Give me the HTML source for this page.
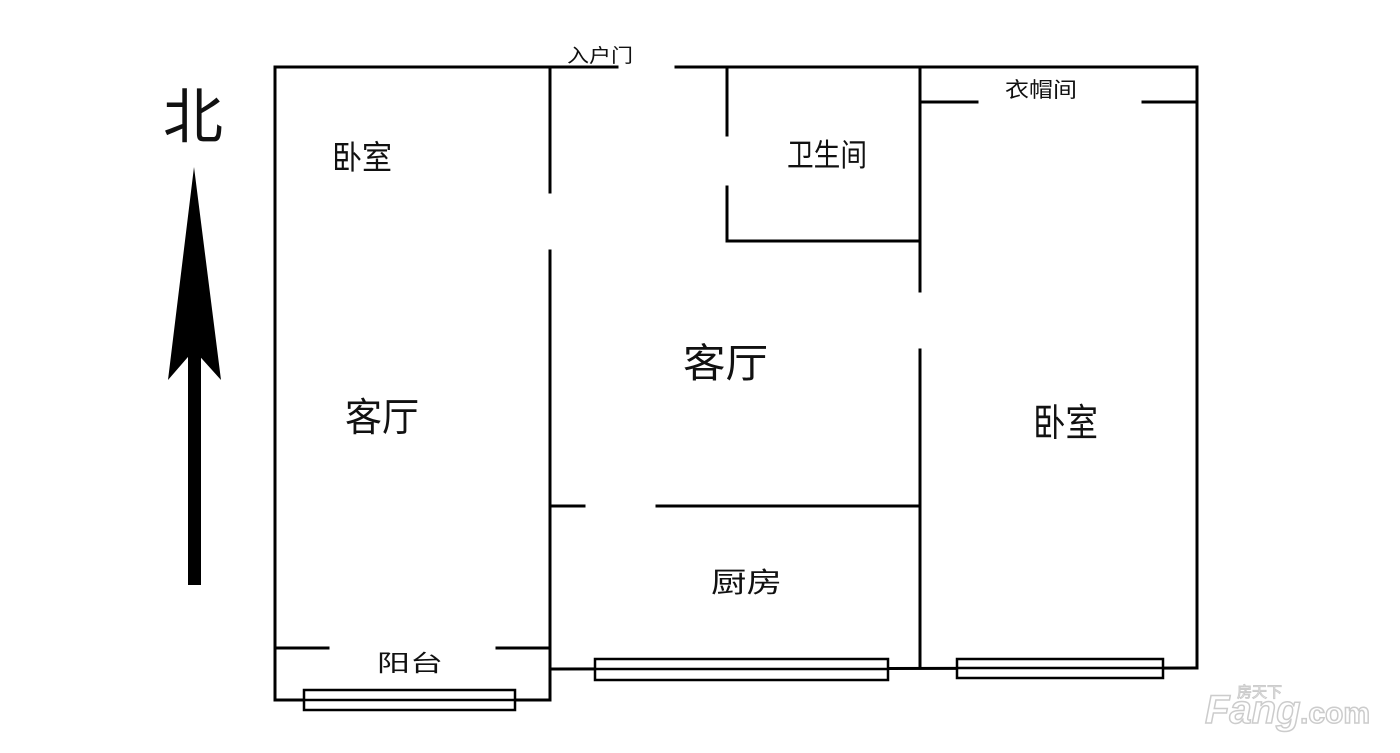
<!DOCTYPE html>
<html><head><meta charset="utf-8"><style>
html,body{margin:0;padding:0;background:#fff;width:1400px;height:753px;overflow:hidden}
text{font-family:"Liberation Sans","Noto Sans CJK SC",sans-serif;fill:#111}
</style></head><body>
<svg width="1400" height="753" viewBox="0 0 1400 753" xmlns="http://www.w3.org/2000/svg">
<g stroke="#000" stroke-width="3" fill="none" stroke-linecap="square">
<line x1="275" y1="67" x2="617" y2="67"/>
<line x1="676" y1="67" x2="1197" y2="67"/>
<line x1="275" y1="67" x2="275" y2="700"/>
<line x1="275" y1="700" x2="550" y2="700"/>
<line x1="550" y1="67" x2="550" y2="192"/>
<line x1="550" y1="251" x2="550" y2="700"/>
<line x1="727" y1="67" x2="727" y2="135"/>
<line x1="727" y1="187" x2="727" y2="241"/>
<line x1="727" y1="241" x2="920" y2="241"/>
<line x1="920" y1="67" x2="920" y2="291"/>
<line x1="920" y1="350" x2="920" y2="668"/>
<line x1="920" y1="102" x2="977" y2="102"/>
<line x1="1143" y1="102" x2="1197" y2="102"/>
<line x1="1197" y1="67" x2="1197" y2="668"/>
<line x1="550" y1="506" x2="584" y2="506"/>
<line x1="657" y1="506" x2="920" y2="506"/>
<line x1="550" y1="669" x2="1197" y2="668"/>
<line x1="275" y1="648" x2="328" y2="648"/>
<line x1="497" y1="648" x2="550" y2="648"/>
</g>
<g stroke="#000" stroke-width="2.5" fill="#fff">
<rect x="304" y="690" width="211" height="20"/>
<rect x="595" y="659" width="293" height="21"/>
<rect x="957" y="659" width="206" height="19"/>
</g>
<g stroke="#000" stroke-width="2.5">
<line x1="304" y1="700" x2="515" y2="700"/>
<line x1="595" y1="669" x2="888" y2="669"/>
<line x1="957" y1="668" x2="1163" y2="668"/>
</g>
<rect x="188" y="350" width="13" height="235" fill="#000"/>
<polygon points="194,167 221,380 194,350 168,380" fill="#000"/>
<text x="193" y="138" font-size="60" text-anchor="middle">北</text>
<text x="567" y="62" font-size="19" textLength="66" lengthAdjust="spacingAndGlyphs">入户门</text>
<text x="332" y="169" font-size="33" textLength="60" lengthAdjust="spacingAndGlyphs">卧室</text>
<text x="787" y="166" font-size="31" textLength="80" lengthAdjust="spacingAndGlyphs">卫生间</text>
<text x="1005" y="97" font-size="21" textLength="72" lengthAdjust="spacingAndGlyphs">衣帽间</text>
<text x="345" y="431" font-size="39" textLength="74" lengthAdjust="spacingAndGlyphs">客厅</text>
<text x="683" y="377" font-size="40" textLength="85" lengthAdjust="spacingAndGlyphs">客厅</text>
<text x="1033" y="436" font-size="38" textLength="65" lengthAdjust="spacingAndGlyphs">卧室</text>
<text x="711" y="592" font-size="28" textLength="71" lengthAdjust="spacingAndGlyphs">厨房</text>
<text x="377" y="671" font-size="23" textLength="66" lengthAdjust="spacingAndGlyphs">阳台</text>
<text x="1205" y="723" font-size="40" font-weight="bold" font-style="italic" stroke="#ccc" stroke-width="1.5" style="fill:#fff">Fang</text>
<text x="1300" y="723" font-size="30" font-weight="bold" stroke="#ccc" stroke-width="1.5" style="fill:#fff">.com</text>
<text x="1237" y="697" font-size="15" stroke="#ccc" stroke-width="1" style="fill:#fff">房天下</text>
</svg>
</body></html>
